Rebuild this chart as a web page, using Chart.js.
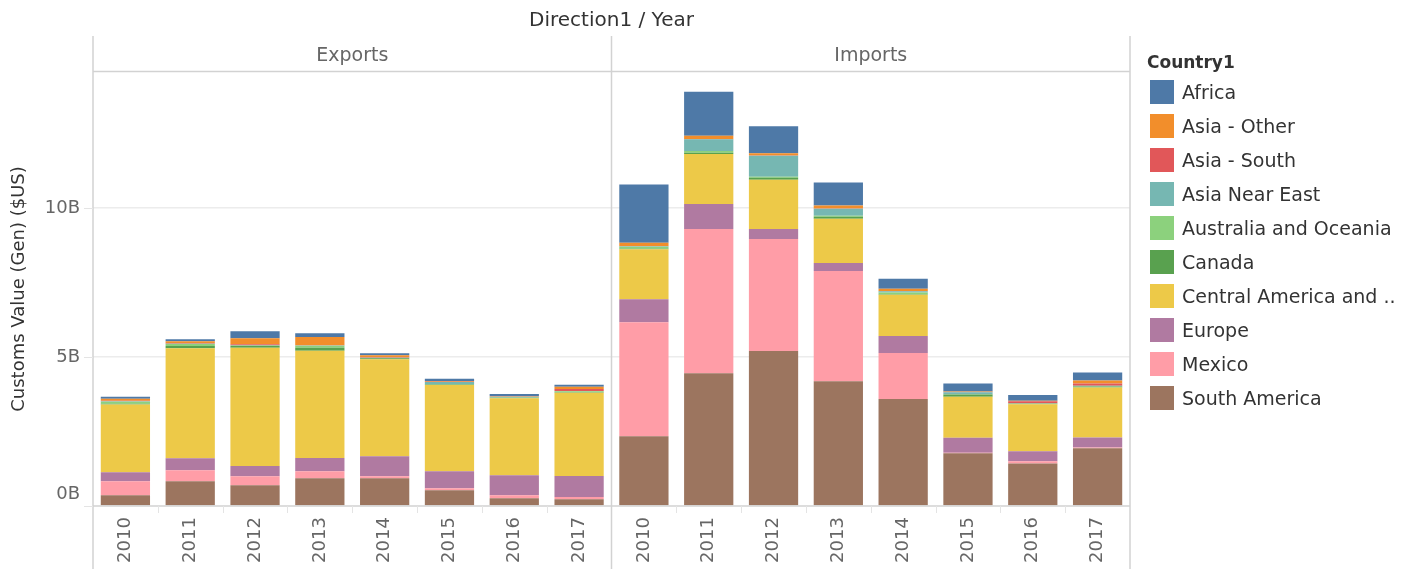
<!DOCTYPE html>
<html>
<head>
  <meta charset="UTF-8">
  <title>Direction1 / Year</title>
  <script src="https://cdn.jsdelivr.net/npm/chart.js"></script>
  <style>
    body {
      margin: 0;
      background: white;
      font-family: 'DejaVu Sans', sans-serif;
    }
    .wrap {
      position: relative;
      width: 1411px;
      height: 569px;
      overflow: hidden;
    }
    #chart {
      position: absolute;
      left: 0;
      top: 0;
    }
    .legend {
      position: absolute;
      left: 1147px;
      top: 50px;
      color: #333;
    }
    .legend h3 {
      margin: 0 0 1px 0;
      font-size: 17px;
      font-weight: bold;
      line-height: 24px;
    }
    .legend .item {
      display: flex;
      align-items: center;
      height: 34px;
      font-size: 19px;
    }
    .legend .box {
      width: 24px;
      height: 24px;
      margin: 0 8px 0 3px;
    }
  </style>
</head>
<body>
  <div class="wrap">
    <canvas id="chart" width="1411" height="569"></canvas>
    <div class="legend" id="legend">
      <h3>Country1</h3>
    </div>
  </div>

  <script>
    // values in billions of $US; first 8 = Exports 2010-2017, last 8 = Imports 2010-2017
    const years = ['2010', '2011', '2012', '2013', '2014', '2015', '2016', '2017'];
    const directions = ['Exports', 'Imports'];
    const yTicks = [0, 5, 10];

    const africa       = [0.07, 0.07, 0.24, 0.13, 0.07, 0.07, 0.07, 0.07,  1.95, 1.48, 0.91, 0.77, 0.34, 0.27, 0.20, 0.27];
    const asiaOther    = [0.07, 0.07, 0.20, 0.27, 0.07, 0.03, 0.01, 0.07,  0.11, 0.11, 0.07, 0.10, 0.07, 0.01, 0.01, 0.10];
    const asiaSouth    = [0.01, 0.01, 0.03, 0.01, 0.01, 0.01, 0.01, 0.07,  0.01, 0.01, 0.01, 0.01, 0.01, 0.01, 0.07, 0.07];
    const asiaNearEast = [0.02, 0.01, 0.01, 0.01, 0.01, 0.07, 0.03, 0.01,  0.02, 0.39, 0.71, 0.24, 0.04, 0.07, 0.01, 0.02];
    const australia    = [0.07, 0.07, 0.01, 0.07, 0.01, 0.01, 0.01, 0.03,  0.06, 0.06, 0.03, 0.03, 0.06, 0.01, 0.01, 0.01];
    const canada       = [0.02, 0.07, 0.07, 0.10, 0.03, 0.02, 0.01, 0.02,  0.02, 0.04, 0.07, 0.07, 0.02, 0.07, 0.01, 0.03];
    const centralAm    = [2.28, 3.70, 3.97, 3.60, 3.26, 2.89, 2.59, 2.79,  1.68, 1.68, 1.65, 1.48, 1.38, 1.38, 1.58, 1.68];
    const europe       = [0.30, 0.40, 0.34, 0.44, 0.67, 0.57, 0.67, 0.71,  0.77, 0.84, 0.34, 0.27, 0.57, 0.50, 0.34, 0.34];
    const mexico       = [0.47, 0.37, 0.30, 0.24, 0.07, 0.07, 0.10, 0.07,  3.83, 4.84, 3.76, 3.70, 1.55, 0.02, 0.07, 0.02];
    const southAm      = [0.36, 0.83, 0.70, 0.93, 0.93, 0.53, 0.26, 0.23,  2.34, 4.46, 5.20, 4.19, 3.59, 1.77, 1.43, 1.94];

    const countries = ['Africa', 'Asia - Other', 'Asia - South', 'Asia Near East', 'Australia and Oceania',
                       'Canada', 'Central America and ..', 'Europe', 'Mexico', 'South America'];
    const colors = ['#4e79a7', '#f28e2b', '#e15759', '#76b7b2', '#8cd17d',
                    '#59a14f', '#edc948', '#b07aa1', '#ff9da7', '#9c755f'];
    const series = [africa, asiaOther, asiaSouth, asiaNearEast, australia, canada, centralAm, europe, mexico, southAm];

    // legend
    const legendEl = document.getElementById('legend');
    countries.forEach((name, i) => {
      const div = document.createElement('div');
      div.className = 'item';
      div.innerHTML = '<span class="box" style="background:' + colors[i] + '"></span>' + name;
      legendEl.appendChild(div);
    });

    const labels = [];
    directions.forEach(() => years.forEach(y => labels.push(y)));

    // stack from the bottom: South America first
    const datasets = [];
    for (let i = countries.length - 1; i >= 0; i--) {
      datasets.push({
        label: countries[i],
        data: series[i],
        backgroundColor: colors[i],
        borderWidth: 0,
        barPercentage: 0.76,
        categoryPercentage: 1.0
      });
    }

    const FONT = "'DejaVu Sans', sans-serif";
    const LINE = '#d2d2d2';

    const decor = {
      id: 'decor',
      afterDraw(chart) {
        const ctx = chart.ctx;
        const a = chart.chartArea;
        const xs = chart.scales.x;
        const ys = chart.scales.y;
        const n = labels.length;
        const step = (a.right - a.left) / n;
        const mid = a.left + step * years.length;
        ctx.save();

        // frame lines
        ctx.strokeStyle = LINE;
        ctx.lineWidth = 1.5;
        ctx.beginPath();
        [a.left, mid, a.right].forEach(x => {
          ctx.moveTo(x, 36);
          ctx.lineTo(x, 569);
        });
        ctx.moveTo(a.left, 71.5);
        ctx.lineTo(a.right, 71.5);
        ctx.moveTo(a.left, a.bottom);
        ctx.lineTo(a.right, a.bottom);
        ctx.stroke();

        // small ticks under the axis
        ctx.strokeStyle = '#e4e4e4';
        ctx.lineWidth = 1;
        ctx.beginPath();
        for (let i = 1; i < n; i++) {
          if (i === years.length) continue;
          const x = Math.round(a.left + step * i) + 0.5;
          ctx.moveTo(x, a.bottom);
          ctx.lineTo(x, a.bottom + 7);
        }
        yTicks.forEach(v => {
          const y = Math.round(ys.getPixelForValue(v)) + 0.5;
          ctx.moveTo(a.left - 9, y);
          ctx.lineTo(a.left, y);
        });
        ctx.stroke();

        // titles
        ctx.fillStyle = '#333';
        ctx.font = '20px ' + FONT;
        ctx.textAlign = 'center';
        ctx.textBaseline = 'middle';
        ctx.fillText('Direction1 / Year', (a.left + a.right) / 2, 21);

        ctx.fillStyle = '#666';
        ctx.font = '19px ' + FONT;
        ctx.fillText(directions[0], (a.left + mid) / 2, 56);
        ctx.fillText(directions[1], (mid + a.right) / 2, 56);

        // y tick labels
        ctx.font = '18px ' + FONT;
        ctx.textAlign = 'right';
        yTicks.forEach(v => {
          let y = ys.getPixelForValue(v);
          if (y > a.bottom - 12) y = a.bottom - 12;
          ctx.fillText(v + 'B', a.left - 13, y);
        });

        // year labels, rotated
        labels.forEach((lab, i) => {
          const x = xs.getPixelForValue(i);
          ctx.save();
          ctx.translate(x, 540);
          ctx.rotate(-Math.PI / 2);
          ctx.textAlign = 'center';
          ctx.fillText(lab, 0, 0);
          ctx.restore();
        });

        // y axis title
        ctx.fillStyle = '#333';
        ctx.font = '18px ' + FONT;
        ctx.save();
        ctx.translate(19, (a.top + a.bottom) / 2);
        ctx.rotate(-Math.PI / 2);
        ctx.textAlign = 'center';
        ctx.fillText('Customs Value (Gen) ($US)', 0, 0);
        ctx.restore();

        ctx.restore();
      }
    };

    new Chart(document.getElementById('chart'), {
      type: 'bar',
      data: { labels: labels, datasets: datasets },
      options: {
        responsive: false,
        animation: false,
        devicePixelRatio: 1,
        layout: { padding: { left: 93, right: 281, top: 72, bottom: 63 } },
        plugins: {
          legend: { display: false },
          tooltip: { enabled: false }
        },
        scales: {
          x: { stacked: true, display: false },
          y: {
            stacked: true,
            min: 0,
            max: 14.57,
            ticks: { display: false, stepSize: 5 },
            border: { display: false },
            grid: {
              drawTicks: false,
              lineWidth: 1.5,
              color: c => (c.tick && c.tick.value > 0 && yTicks.includes(c.tick.value)) ? '#ececec' : 'rgba(0,0,0,0)'
            }
          }
        }
      },
      plugins: [decor]
    });
  </script>
</body>
</html>
